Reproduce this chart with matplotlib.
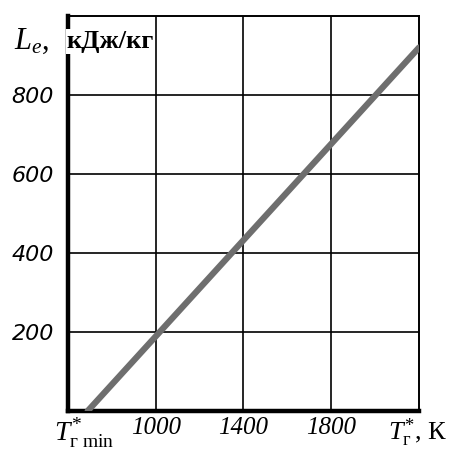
import matplotlib
matplotlib.use("Agg")
import matplotlib.pyplot as plt
import matplotlib.transforms as mtransforms

# data
T_line = [690, 2200]
L_line = [0, 920]
x_grid = [1000, 1400, 1800]
y_ticks = [200, 400, 600, 800]
y_labels = ["200", "400", "600", "800"]
x_tick_pos = [690, 1000, 1400, 1800, 2200]
x_tick_labels = [r"$T^{*}_{\mathrm{г\ min}}$", "1000", "1400", "1800", r"$T^{*}_{\mathrm{г}}$, К"]

plt.rcParams["mathtext.fontset"] = "custom"
plt.rcParams["mathtext.rm"] = "Liberation Serif"
plt.rcParams["mathtext.it"] = "Liberation Serif:italic"
plt.rcParams["font.family"] = ["Liberation Serif", "DejaVu Serif"]

fig = plt.figure(figsize=(4.59, 4.49), dpi=100)
ax = fig.add_axes([0.148, 0.0846, 0.765, 0.880])
ax.set_xlim(600, 2200)
ax.set_ylim(0, 1000)

for x in x_grid:
    ax.axvline(x, color="black", lw=1.2, zorder=1)
for y in y_ticks:
    ax.axhline(y, color="black", lw=1.2, zorder=1)

ax.plot(T_line, L_line, color="#6e6e6e", lw=4.5, solid_capstyle="round", zorder=3)

ax.spines["left"].set_linewidth(3.2)
ax.spines["bottom"].set_linewidth(3.2)
ax.spines["top"].set_linewidth(1.4)
ax.spines["right"].set_linewidth(1.4)

ax.set_yticks(y_ticks)
ax.set_yticklabels(y_labels, fontsize=16, style="italic", family=["DejaVu Sans"])
ax.set_xticks(x_tick_pos)
ax.set_xticklabels(x_tick_labels, fontsize=18, style="italic")
labels = ax.get_xticklabels()
labels[0].set_fontsize(20)
labels[0].set_horizontalalignment("right")
labels[-1].set_fontstyle("normal")
labels[-1].set_fontsize(19)
ax.tick_params(length=0, pad=4)
ax.tick_params(axis="y", pad=10)

off = mtransforms.ScaledTranslation(26 / 100, 0, fig.dpi_scale_trans)
labels[0].set_transform(labels[0].get_transform() + off)
off2 = mtransforms.ScaledTranslation(-2 / 100, 0, fig.dpi_scale_trans)
labels[-1].set_transform(labels[-1].get_transform() + off2)

ax.text(-0.155, 0.935, r"$L_e$,", transform=ax.transAxes, fontsize=22,
        ha="left", va="center", zorder=5,
        bbox=dict(facecolor="white", edgecolor="none", pad=1))
ax.text(0.12, 0.935, "кДж/кг", transform=ax.transAxes, fontsize=19,
        fontweight="bold", ha="center", va="center", zorder=5,
        bbox=dict(facecolor="white", edgecolor="none", pad=0.5))

fig.savefig("out.png", dpi=100)
